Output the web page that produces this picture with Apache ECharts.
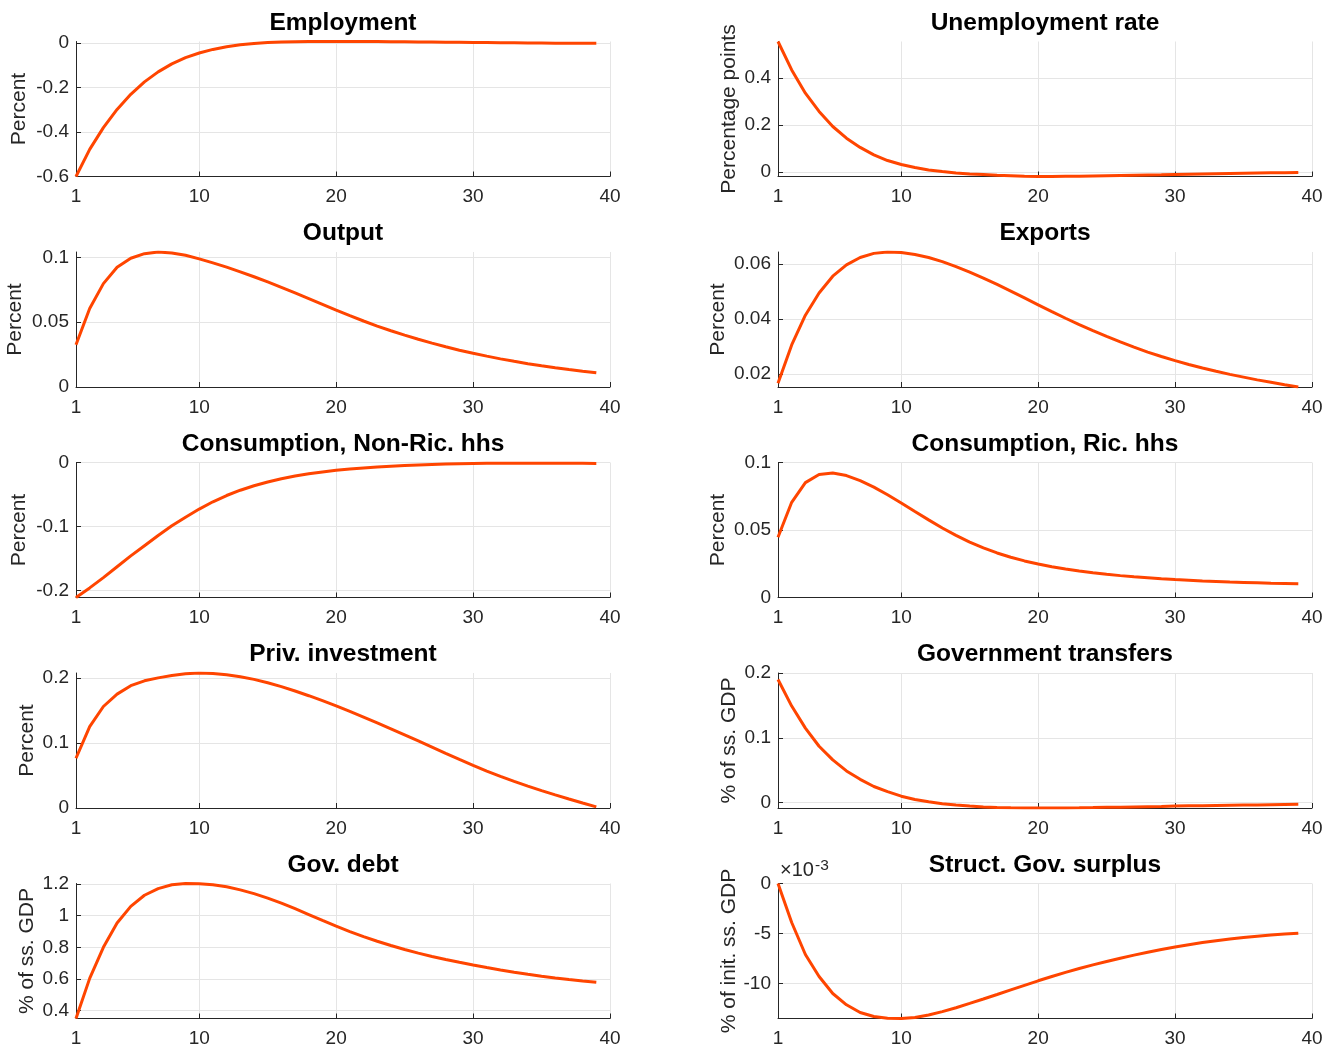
<!DOCTYPE html>
<html>
<head>
<meta charset="utf-8">
<script src="https://cdn.jsdelivr.net/npm/echarts@6/dist/echarts.min.js"></script>
<style>
  html, body { margin: 0; padding: 0; background: #ffffff; }
  #chart { width: 1336px; height: 1049px; }
</style>
</head>
<body>
<div id="chart"></div>
<script>
// Horizon (quarters) on the x axis
const periods = [1,2,3,4,5,6,7,8,9,10,11,12,13,14,15,16,17,18,19,20,
                 21,22,23,24,25,26,27,28,29,30,31,32,33,34,35,36,37,38,39];
const xTicks = [1, 10, 20, 30, 40];

// Impulse responses
const employment = [-0.600,-0.478,-0.380,-0.298,-0.230,-0.174,-0.129,-0.093,-0.065,-0.044,
  -0.028,-0.016,-0.007,-0.001,0.003,0.005,0.0065,0.0072,0.0075,0.0076,
  0.0076,0.0074,0.0071,0.0067,0.0062,0.0057,0.0051,0.0045,0.0039,0.0033,
  0.0027,0.0021,0.0016,0.0011,0.0006,0.0002,-0.0001,-0.0004,-0.0006];

const unemployment = [0.555,0.434,0.335,0.257,0.193,0.143,0.104,0.072,0.048,0.031,
  0.018,0.008,0.001,-0.005,-0.009,-0.012,-0.015,-0.017,-0.019,-0.020,
  -0.020,-0.019,-0.019,-0.018,-0.017,-0.016,-0.015,-0.014,-0.013,-0.011,
  -0.010,-0.009,-0.008,-0.007,-0.006,-0.005,-0.004,-0.004,-0.003];

const output = [0.0326,0.0606,0.0797,0.0924,0.0993,0.1028,0.1041,0.1034,0.1016,0.0988,
  0.0957,0.0924,0.0888,0.0850,0.0810,0.0768,0.0725,0.0681,0.0637,0.0593,
  0.0550,0.0509,0.0470,0.0434,0.0400,0.0368,0.0338,0.0310,0.0284,0.0260,
  0.0238,0.0217,0.0198,0.0180,0.0164,0.0149,0.0135,0.0122,0.0110];

const exports = [0.0166,0.0305,0.0413,0.0494,0.0555,0.0596,0.0623,0.0638,0.0643,0.0641,
  0.0634,0.0623,0.0608,0.0590,0.0570,0.0548,0.0525,0.0501,0.0476,0.0451,
  0.0426,0.0402,0.0379,0.0357,0.0336,0.0316,0.0297,0.0279,0.0263,0.0248,
  0.0234,0.0221,0.0209,0.0198,0.0188,0.0178,0.0169,0.0160,0.0152];

const consNonRic = [-0.211,-0.196,-0.180,-0.163,-0.146,-0.130,-0.114,-0.0990,-0.0855,-0.0728,
  -0.0614,-0.0516,-0.0433,-0.0363,-0.0304,-0.0254,-0.0212,-0.0177,-0.0147,-0.0122,
  -0.0102,-0.0085,-0.0071,-0.0059,-0.0048,-0.0039,-0.0031,-0.0025,-0.0020,-0.0016,
  -0.0013,-0.0011,-0.0010,-0.0010,-0.0010,-0.0011,-0.0012,-0.0013,-0.0014];

const consRic = [0.0446,0.0705,0.0851,0.0911,0.0922,0.0903,0.0866,0.0818,0.0761,0.0700,
  0.0637,0.0575,0.0515,0.0460,0.0410,0.0367,0.0330,0.0298,0.0271,0.0248,
  0.0228,0.0211,0.0196,0.0183,0.0172,0.0162,0.0153,0.0146,0.0139,0.0133,
  0.0128,0.0123,0.0119,0.0115,0.0112,0.0109,0.0106,0.0104,0.0102];

const privInvestment = [0.0765,0.125,0.156,0.175,0.188,0.1955,0.200,0.2035,0.2062,0.2075,
  0.2067,0.2047,0.2017,0.1977,0.1925,0.1865,0.1798,0.1726,0.1650,0.1570,
  0.1485,0.1398,0.1309,0.1218,0.1125,0.1031,0.0936,0.0841,0.0747,0.0655,
  0.0568,0.0486,0.0409,0.0336,0.0267,0.0201,0.0138,0.0077,0.0018];

const govTransfers = [0.190,0.149,0.115,0.087,0.066,0.049,0.036,0.025,0.017,0.010,
  0.005,0.0015,-0.0015,-0.0036,-0.0053,-0.0065,-0.0073,-0.0078,-0.0081,-0.0082,
  -0.0082,-0.0081,-0.0079,-0.0076,-0.0072,-0.0069,-0.0065,-0.0061,-0.0057,-0.0052,
  -0.0049,-0.0046,-0.0043,-0.0040,-0.0037,-0.0034,-0.0031,-0.0028,-0.0026];

const govDebt = [0.351,0.604,0.800,0.953,1.058,1.128,1.170,1.194,1.202,1.200,
  1.194,1.181,1.162,1.138,1.110,1.078,1.043,1.006,0.969,0.933,
  0.899,0.867,0.838,0.811,0.786,0.763,0.742,0.723,0.705,0.688,
  0.672,0.657,0.643,0.630,0.618,0.607,0.597,0.588,0.580];

const structSurplus = [0,-0.0039,-0.0071,-0.0093,-0.0110,-0.01213,-0.0129,-0.0133,-0.01347,-0.0135,
  -0.0134,-0.01315,-0.01281,-0.01242,-0.01199,-0.01155,-0.0111,-0.01064,-0.01018,-0.00973,
  -0.0093,-0.00889,-0.0085,-0.00814,-0.0078,-0.00747,-0.00716,-0.00687,-0.0066,-0.00635,
  -0.00612,-0.00591,-0.00572,-0.00555,-0.0054,-0.00527,-0.00516,-0.00506,-0.00497];

// Y tick values and their labels
const employmentTicks = [-0.6, -0.4, -0.2, 0];
const unemploymentTicks = [0, 0.2, 0.4];
const outputTicks = [0, 0.05, 0.1];
const exportsTicks = [0.02, 0.04, 0.06];
const consNonRicTicks = [-0.2, -0.1, 0];
const consRicTicks = [0, 0.05, 0.1];
const privInvestmentTicks = [0, 0.1, 0.2];
const govTransfersTicks = [0, 0.1, 0.2];
const govDebtTicks = [0.4, 0.6, 0.8, 1, 1.2];
const structSurplusTicks = [-0.01, -0.005, 0];
const structSurplusTickLabels = ['-10', '-5', '0'];

const panels = [
  { title: 'Employment', unit: 'Percent', values: employment, ticks: employmentTicks, min: -0.6, max: 0.0076, gap: 46 },
  { title: 'Unemployment rate', unit: 'Percentage points', values: unemployment, ticks: unemploymentTicks, min: -0.02, max: 0.555, gap: 38 },
  { title: 'Output', unit: 'Percent', values: output, ticks: outputTicks, min: 0, max: 0.1041, gap: 50 },
  { title: 'Exports', unit: 'Percent', values: exports, ticks: exportsTicks, min: 0.0152, max: 0.0643, gap: 49 },
  { title: 'Consumption, Non-Ric. hhs', unit: 'Percent', values: consNonRic, ticks: consNonRicTicks, min: -0.211, max: 0, gap: 46 },
  { title: 'Consumption, Ric. hhs', unit: 'Percent', values: consRic, ticks: consRicTicks, min: 0, max: 0.1, gap: 49 },
  { title: 'Priv. investment', unit: 'Percent', values: privInvestment, ticks: privInvestmentTicks, min: 0, max: 0.2075, gap: 38 },
  { title: 'Government transfers', unit: '% of ss. GDP', values: govTransfers, ticks: govTransfersTicks, min: -0.0082, max: 0.2, gap: 38 },
  { title: 'Gov. debt', unit: '% of ss. GDP', values: govDebt, ticks: govDebtTicks, min: 0.351, max: 1.202, gap: 38 },
  { title: 'Struct. Gov. surplus', unit: '% of init. ss. GDP', values: structSurplus, ticks: structSurplusTicks,
    tickLabels: structSurplusTickLabels, min: -0.0135, max: 0, gap: 38 }
];

const FONT = '"Liberation Sans", Arial, Helvetica, sans-serif';
const AXIS_COLOR = '#262626';
const GRID_COLOR = '#e5e5e5';
const LINE_COLOR = '#ff4500';

const COL_LEFT = [76, 778];
const PLOT_W = 534;
const ROW_TOP0 = 41.5;
const ROW_STEP = 210.5;
const PLOT_H = 135;

const grids = [], xAxes = [], yAxes = [], series = [], titles = [];

panels.forEach((p, i) => {
  const col = i % 2, row = Math.floor(i / 2);
  const left = COL_LEFT[col];
  const top = ROW_TOP0 + row * ROW_STEP;
  grids.push({ left: left, top: top, width: PLOT_W, height: PLOT_H, containLabel: false });

  titles.push({
    text: p.title,
    left: left + PLOT_W / 2,
    top: top - 31,
    padding: 0,
    textAlign: 'center',
    textStyle: { fontFamily: FONT, fontSize: 24.5, fontWeight: 'bold', color: '#000000' }
  });

  xAxes.push({
    gridIndex: i, type: 'value', min: 1, max: 40,
    axisLine: { show: true, onZero: false, lineStyle: { color: AXIS_COLOR, width: 1 } },
    axisTick: { show: true, inside: true, length: 5, customValues: xTicks, lineStyle: { color: AXIS_COLOR } },
    axisLabel: { customValues: xTicks, color: AXIS_COLOR, fontFamily: FONT, fontSize: 19, margin: 11 },
    splitLine: { show: true, lineStyle: { color: GRID_COLOR, width: 1 } }
  });

  const labelFor = p.tickLabels
    ? (v) => { const k = p.ticks.findIndex(t => Math.abs(t - v) < 1e-9); return k >= 0 ? p.tickLabels[k] : ''; }
    : (v) => String(+v.toFixed(4));

  yAxes.push({
    gridIndex: i, type: 'value', min: p.min, max: p.max,
    name: p.unit, nameLocation: 'middle', nameRotate: 90, nameGap: p.gap,
    nameTextStyle: { fontFamily: FONT, fontSize: 21, color: AXIS_COLOR },
    axisLine: { show: true, onZero: false, lineStyle: { color: AXIS_COLOR, width: 1 } },
    axisTick: { show: true, inside: true, length: 5, customValues: p.ticks, lineStyle: { color: AXIS_COLOR } },
    axisLabel: { customValues: p.ticks, color: AXIS_COLOR, fontFamily: FONT, fontSize: 19, margin: 7, formatter: labelFor },
    splitLine: { show: true, lineStyle: { color: GRID_COLOR, width: 1 } }
  });

  series.push({
    type: 'line', xAxisIndex: i, yAxisIndex: i,
    data: periods.map((t, k) => [t, p.values[k]]),
    showSymbol: false, smooth: false,
    lineStyle: { color: LINE_COLOR, width: 3 },
    itemStyle: { color: LINE_COLOR },
    animation: false
  });
});

// Exponent marker of the structural surplus axis
const lastTop = ROW_TOP0 + 4 * ROW_STEP;
const graphic = [
  { type: 'text', left: COL_LEFT[1] + 2, top: lastTop - 23,
    style: { text: '×10', fontFamily: FONT, fontSize: 20, fill: AXIS_COLOR } },
  { type: 'text', left: COL_LEFT[1] + 37, top: lastTop - 26,
    style: { text: '-3', fontFamily: FONT, fontSize: 15.5, fill: AXIS_COLOR } }
];

const chart = echarts.init(document.getElementById('chart'), null, { renderer: 'canvas' });
chart.setOption({
  backgroundColor: '#ffffff',
  animation: false,
  title: titles,
  grid: grids,
  xAxis: xAxes,
  yAxis: yAxes,
  series: series,
  graphic: graphic
});
</script>
</body>
</html>
